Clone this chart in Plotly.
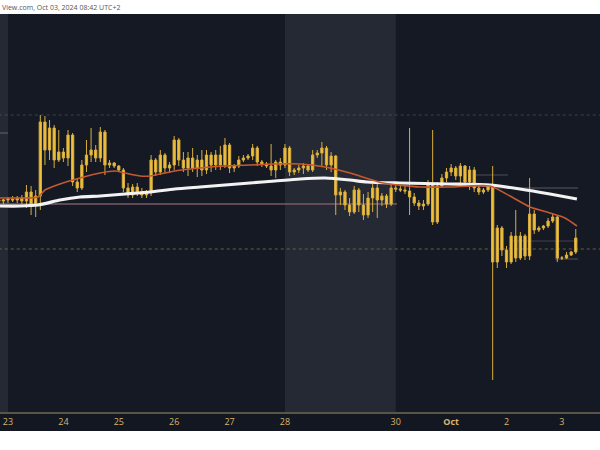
import pandas as pd
import plotly.graph_objects as go

# ---------------- data (2-hour candles, prices in chart points) ----------------
candle_start = "2024-09-22 20:00"

open_ = [250, 249, 250, 251, 250, 252, 249, 258, 245, 254, 328, 300, 322, 290, 298, 292, 315, 268, 262, 285,
         295, 300, 292, 318, 285, 287, 284, 280, 262, 255, 263, 258, 255, 257, 290, 278, 295, 282, 285, 310,
         290, 282, 292, 282, 290, 280, 295, 285, 295, 285, 305, 282, 284, 290, 292, 294, 302, 288, 286, 284,
         280, 288, 285, 302, 278, 280, 282, 284, 280, 295, 297, 302, 285, 294, 255, 258, 245, 238, 260, 245,
         235, 252, 262, 250, 254, 246, 262, 261, 260, 259, 253, 247, 244, 246, 266, 228, 264, 272, 278, 282,
         274, 284, 268, 280, 262, 258, 260, 264, 188, 222, 200, 188, 214, 192, 214, 194, 236, 220, 222, 224,
         229, 233, 192, 192, 195, 198]
high = [252, 251, 253, 254, 254, 255, 265, 264, 260, 335, 334, 330, 325, 320, 302, 320, 317, 272, 290, 310,
        322, 305, 323, 320, 290, 288, 285, 282, 267, 266, 267, 262, 260, 295, 292, 300, 297, 288, 314, 312,
        298, 298, 302, 295, 300, 300, 298, 300, 304, 312, 307, 286, 294, 295, 296, 306, 304, 290, 288, 306,
        290, 292, 306, 304, 282, 285, 287, 285, 300, 300, 308, 304, 298, 295, 262, 260, 252, 264, 262, 256,
        258, 266, 268, 257, 256, 266, 266, 264, 264, 322, 257, 250, 250, 270, 320, 268, 276, 282, 286, 284,
        287, 285, 284, 283, 266, 262, 266, 284, 225, 224, 204, 218, 240, 218, 216, 272, 240, 224, 225, 232,
        236, 235, 194, 198, 199, 221]
low = [247, 246, 247, 248, 247, 246, 242, 235, 233, 240, 285, 290, 282, 288, 288, 284, 264, 258, 260, 278,
       288, 288, 288, 275, 282, 282, 278, 258, 252, 252, 254, 252, 252, 254, 274, 275, 277, 277, 280, 284,
       278, 274, 278, 273, 274, 276, 278, 280, 280, 282, 277, 278, 282, 288, 290, 290, 284, 283, 282, 274,
       272, 280, 282, 274, 275, 277, 276, 278, 278, 292, 283, 280, 278, 235, 245, 240, 234, 236, 238, 230,
       232, 238, 232, 244, 242, 244, 258, 258, 256, 235, 244, 240, 240, 244, 225, 226, 262, 268, 274, 270,
       264, 264, 260, 258, 255, 256, 258, 70, 182, 194, 182, 186, 188, 190, 190, 190, 216, 218, 220, 222,
       227, 188, 190, 191, 194, 196]
close = [249, 250, 251, 250, 252, 249, 258, 245, 254, 328, 300, 322, 290, 298, 292, 315, 268, 262, 285, 295,
         300, 292, 318, 285, 287, 284, 280, 262, 255, 263, 258, 255, 257, 290, 278, 295, 282, 285, 310, 290,
         282, 292, 282, 290, 280, 295, 285, 295, 285, 305, 282, 284, 290, 292, 294, 302, 288, 286, 284, 280,
         288, 285, 302, 278, 280, 282, 284, 280, 295, 297, 302, 285, 294, 255, 258, 245, 238, 260, 245, 235,
         252, 262, 250, 254, 246, 262, 261, 260, 259, 253, 247, 244, 246, 266, 228, 264, 272, 278, 282, 274,
         284, 268, 280, 262, 258, 260, 264, 188, 222, 200, 188, 214, 192, 214, 194, 236, 220, 222, 224, 229,
         233, 192, 192, 195, 198, 212]

# moving averages (hours after 2024-09-23 00:00, value)
ma_base = "2024-09-23 00:00"
ma_fast_hours = [-3.5, 5.2, 13.0, 16.0, 22.5, 31.2, 39.9, 46.4, 50.7, 57.2, 61.5, 72.3, 83.2, 94.0, 104.8,
                 115.7, 126.5, 137.3, 148.2, 162.5, 178.5, 191.5, 208.8, 217.5, 226.2, 234.8, 241.3, 246.5]
ma_fast = [252, 252, 253, 260, 266, 272, 277, 279, 277, 274, 274, 279, 282, 284, 285,
           286, 286, 283, 277, 267, 263, 263, 264, 254, 243, 237, 232, 224]
ma_slow_hours = [-3.5, 5.2, 13.0, 22.5, 31.2, 39.9, 50.7, 61.5, 72.3, 83.2, 94.0, 104.8, 115.7, 126.5,
                 137.3, 148.2, 155.5, 169.8, 191.5, 208.8, 221.8, 234.8, 246.5]
ma_slow = [244, 244, 245, 250, 253, 254, 256, 258, 261, 263, 265, 267, 269, 271,
           272, 270, 268, 267, 266, 265, 261, 256, 251]

# horizontal levels: (price, start hour, end hour)
levels = [(335, -4, 257), (317, -4, 0), (246, -4, 168.5), (201, -4, 257),
          (262, 207.5, 247), (275, 202.3, 216.6), (209, 218.8, 247), (191, 237, 247)]
level_styles = [("rgba(140,140,150,0.35)", "dot", 1), ("rgba(140,140,150,0.6)", "solid", 1),
                ("#7a5866", "solid", 1.5), ("#6f6238", "dot", 1),
                ("rgba(150,140,140,0.55)", "solid", 1), ("rgba(150,140,140,0.45)", "solid", 1),
                ("rgba(150,140,140,0.35)", "solid", 1), ("rgba(150,140,140,0.5)", "solid", 1)]

# weekend sessions (shaded)
weekends = [("2024-09-22 00:00", "2024-09-23 00:00"), ("2024-09-28 00:00", "2024-09-30 00:00")]

tick_dates = ["2024-09-23", "2024-09-24", "2024-09-25", "2024-09-26", "2024-09-27", "2024-09-28",
              "2024-09-30", "2024-10-01", "2024-10-02", "2024-10-03"]
tick_labels = ["23", "24", "25", "26", "27", "28", "30", "<b>Oct</b>", "2", "3"]

x_range = ["2024-09-22 20:32", "2024-10-03 16:30"]
y_range = [38, 436]

# ---------------- figure ----------------
times = pd.date_range(candle_start, periods=len(open_), freq="2h")
base = pd.Timestamp(ma_base)
fast_t = [base + pd.Timedelta(hours=h) for h in ma_fast_hours]
slow_t = [base + pd.Timedelta(hours=h) for h in ma_slow_hours]

gold = "#f2c23c"
fig = go.Figure()
fig.add_trace(go.Candlestick(
    x=times, open=open_, high=high, low=low, close=close,
    increasing=dict(line=dict(color="#d9ae3c", width=1), fillcolor=gold),
    decreasing=dict(line=dict(color="#d9ae3c", width=1), fillcolor=gold),
    showlegend=False, whiskerwidth=0,
))
fig.add_trace(go.Scatter(x=slow_t, y=ma_slow, mode="lines",
                         line=dict(color="#f2f2f2", width=3.2, shape="spline", smoothing=0.6),
                         showlegend=False))
fig.add_trace(go.Scatter(x=fast_t, y=ma_fast, mode="lines",
                         line=dict(color="#c8582e", width=1.6, shape="spline", smoothing=0.6),
                         showlegend=False))

shapes = []
for a, b in weekends:
    shapes.append(dict(type="rect", xref="x", yref="paper", x0=a, x1=b, y0=0, y1=1,
                       fillcolor="rgba(255,255,255,0.07)", line=dict(width=0), layer="below"))
for (p, h0, h1), (col, dash, w) in zip(levels, level_styles):
    shapes.append(dict(type="line", xref="x", yref="y",
                       x0=base + pd.Timedelta(hours=h0), x1=base + pd.Timedelta(hours=h1),
                       y0=p, y1=p, line=dict(color=col, width=w, dash=dash), layer="below"))
# dark axis strip under the plot
shapes.append(dict(type="rect", xref="paper", yref="paper", x0=0, x1=1, y0=-19 / 398, y1=0,
                   fillcolor="#131722", line=dict(width=0), layer="below"))

fig.update_layout(
    width=600, height=450,
    margin=dict(l=0, r=0, t=14, b=38),
    paper_bgcolor="white",
    plot_bgcolor="#151924",
    shapes=shapes,
    xaxis=dict(type="date", range=x_range, rangeslider=dict(visible=False),
               showgrid=False, zeroline=False, showline=True, linecolor="#5a5448", linewidth=1.5,
               tickmode="array", tickvals=tick_dates, ticktext=tick_labels, ticks="",
               tickfont=dict(family="Open Sans", size=9, color="#d8b46a")),
    yaxis=dict(range=y_range, visible=False, showgrid=False, zeroline=False),
    annotations=[dict(text="View.com, Oct 03, 2024 08:42 UTC+2", xref="paper", yref="paper",
                      x=0, y=1 + 7 / 398, xanchor="left", yanchor="middle", showarrow=False,
                      font=dict(family="Open Sans", size=7, color="#555"))],
)

fig.write_html("out.html", config={"displayModeBar": False},
               post_script="document.body.style.margin='0';document.body.style.overflow='hidden';")
